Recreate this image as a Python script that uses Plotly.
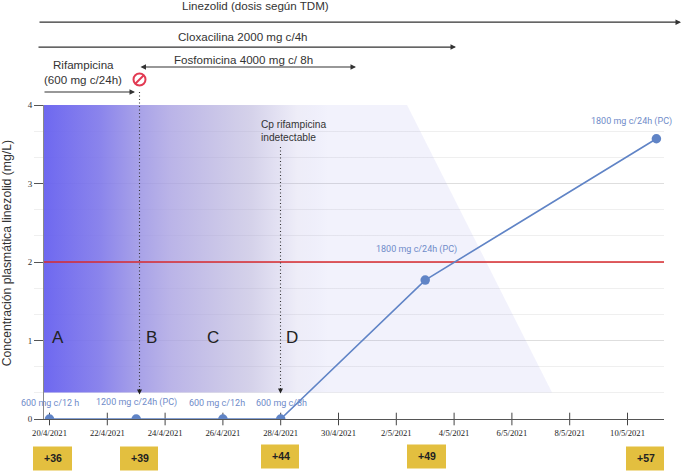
import plotly.graph_objects as go
import pandas as pd

# ---- data ----
dates = ["2021-04-20", "2021-04-23", "2021-04-26", "2021-04-28", "2021-05-03", "2021-05-11"]
conc = [0, 0, 0, 0, 1.77, 3.57]
dose_labels = ["600 mg c/12 h", "1200 mg c/24h (PC)", "600 mg c/12h", "600 mg c/8h",
               "1800 mg c/24h (PC)", "1800 mg c/24h (PC)"]
tick_dates = ["2021-04-20", "2021-04-22", "2021-04-24", "2021-04-26", "2021-04-28", "2021-04-30",
              "2021-05-02", "2021-05-04", "2021-05-06", "2021-05-08", "2021-05-10"]
tick_labels = ["20/4/2021", "22/4/2021", "24/4/2021", "26/4/2021", "28/4/2021", "30/4/2021",
               "2/5/2021", "4/5/2021", "6/5/2021", "8/5/2021", "10/5/2021"]
threshold = 2
phases = ["A", "B", "C", "D"]
day_boxes = ["+36", "+39", "+44", "+49", "+57"]

# ---- geometry helpers (page pixels of the 682x472 window) ----
W, H = 682, 472
L, R, T, B = 34, 664, 105, 419.5
PXDAY = 28.9
X0 = 49.5
x_of = lambda d: (pd.Timestamp(d) - pd.Timestamp(dates[0])).days
days = [x_of(d) for d in dates]
tick_days = [x_of(d) for d in tick_dates]
px = lambda x: (x - L) / (R - L)
py = lambda y: (B - y) / (B - T)
dx = lambda x: (x - X0) / PXDAY
dy = lambda y: (B - y) / 78.6

SANS = "Liberation Sans"
SERIF = "Liberation Serif"
ROBO = "Roboto"
BLUE = "#6f8cc9"
LINE = "#6084c6"
TXT = "#333333"

fig = go.Figure()

# shaded region with gradient
grad_stops = [
    [0.00, "rgba(102,96,239,0.95)"],
    [0.11, "rgba(125,118,234,0.90)"],
    [0.19, "rgba(153,146,228,0.85)"],
    [0.25, "rgba(169,161,226,0.80)"],
    [0.41, "rgba(171,165,213,0.50)"],
    [0.50, "rgba(170,165,220,0.20)"],
    [0.56, "rgba(125,125,225,0.10)"],
    [1.00, "rgba(125,125,225,0.10)"],
]
fig.add_trace(go.Scatter(
    x=[dx(43), dx(407), dx(552), dx(43), dx(43)],
    y=[dy(105), dy(105), dy(393), dy(393), dy(105)],
    mode="none", fill="toself", hoverinfo="skip", showlegend=False,
    fillgradient=dict(type="horizontal", colorscale=grad_stops, start=dx(43), stop=dx(552)),
))

# threshold
fig.add_trace(go.Scatter(
    x=[dx(43), dx(664)], y=[threshold, threshold], mode="lines",
    line=dict(color="#d92a2e", width=1.4), hoverinfo="skip", showlegend=False))

# x ticks crossing the axis
fig.add_trace(go.Scatter(
    x=tick_days, y=[0] * len(tick_days), mode="markers", cliponaxis=False, hoverinfo="skip", showlegend=False,
    marker=dict(symbol="line-ns", size=9, color="#444444", line=dict(color="#444444", width=1))))

# main series
fig.add_trace(go.Scatter(
    x=days, y=conc, mode="lines+markers",
    line=dict(color=LINE, width=1.6), marker=dict(color=LINE, size=9.5),
    showlegend=False))

shapes, ann = [], []

def text(x, y, s, size=11.6, color=TXT, font=SANS, anchor="center", **kw):
    ann.append(dict(x=px(x), y=py(y), xref="paper", yref="paper", text=s, showarrow=False,
                    font=dict(family=font, size=size, color=color), xanchor=anchor, yanchor="middle", **kw))

def arrow(x0, x1, y, both=False):
    ann.append(dict(x=px(x1), y=py(y), xref="paper", yref="paper", ax=x0 - x1, ay=0, text="",
                    showarrow=True, arrowhead=2, arrowsize=1.0, arrowwidth=1.1, arrowcolor="#333333",
                    startarrowhead=2, startarrowsize=1.0,
                    arrowside="end+start" if both else "end", standoff=0, startstandoff=0))

def pline(x0, y0, x1, y1, color, width=1, dash="solid"):
    shapes.append(dict(type="line", xref="paper", yref="paper", x0=px(x0), x1=px(x1), y0=py(y0), y1=py(y1),
                       line=dict(color=color, width=width, dash=dash), layer="above"))

# treatment bars
arrow(38, 682, 22)
arrow(37, 456, 47)
arrow(139, 356, 67, both=True)
arrow(43, 135, 92)
text(255.5, 5, "Linezolid (dosis según TDM)")
text(243, 36, "Cloxacilina 2000 mg c/4h")
text(243, 59, "Fosfomicina 4000 mg c/ 8h")
text(83, 64, "Rifampicina")
text(83, 79, "(600 mg c/24h)")

# stop sign
shapes.append(dict(type="circle", xref="paper", yref="paper", x0=px(133.5), x1=px(145.5), y0=py(85.5), y1=py(73.5),
                   line=dict(color="#e23a52", width=2), fillcolor="white", layer="above"))
pline(135.5, 83.5, 143.5, 75.5, "#e23a52", 2)

# dotted arrows
pline(139.5, 92, 139.5, 391, "#333333", 1.1, "1px,2.5px")
pline(280.5, 147, 280.5, 390, "#333333", 1.1, "1px,2.5px")
for xv, yv in ((139.5, 395), (280.5, 394)):
    ann.append(dict(x=px(xv), y=py(yv), xref="paper", yref="paper", ax=0, ay=-7, text="",
                    showarrow=True, arrowhead=2, arrowsize=1.0, arrowwidth=1, arrowcolor="#222222", standoff=0))
text(258.5, 125, "Cp rifampicina", size=10.2, anchor="left")
text(258.5, 137.5, "indetectable", size=10.2, anchor="left")

# phase letters
for s, xv in zip(phases, (58, 151, 213, 292)):
    text(xv, 338, s, size=17, color="#222222")

# dose labels
for s, (xv, yv) in zip(dose_labels, ((50, 403), (136.5, 403), (216.5, 403), (281, 403), (416, 250), (631, 122))):
    text(xv, yv, s, size=9, color=BLUE, font=ROBO)

# day boxes
for s, (x0, x1, y0, y1) in zip(day_boxes, ((33, 72, 447, 471), (120, 158, 447, 471), (261, 299, 445, 469),
                                           (407, 446, 445, 469), (626, 664, 447, 471))):
    shapes.append(dict(type="rect", xref="paper", yref="paper", x0=px(x0), x1=px(x1), y0=py(y1), y1=py(y0),
                       line=dict(width=0), fillcolor="#e3bf3f", layer="above"))
    text((x0 + x1) / 2 + 0.5, (y0 + y1) / 2, f"<b>{s}</b>", size=10.5, color="#222222")

# y axis title
ann.append(dict(x=px(6.5), y=py(254), xref="paper", yref="paper", text="Concentración plasmática linezolid (mg/L)",
                showarrow=False, textangle=-90, font=dict(family=SANS, size=12.2, color=TXT),
                xanchor="center", yanchor="middle"))

fig.update_layout(
    width=W, height=H, autosize=False, showlegend=False,
    margin=dict(l=L, r=W - R, t=T, b=H - B, pad=0),
    paper_bgcolor="white", plot_bgcolor="white",
    xaxis=dict(range=[dx(L), dx(R)], tickvals=tick_days, ticktext=tick_labels,
               ticks="", ticklabelstandoff=6, showgrid=False, zeroline=False,
               showline=True, linecolor="#555555", linewidth=1,
               tickfont=dict(family=SERIF, size=8.6, color="#222222")),
    yaxis=dict(range=[0, 4], tickvals=[0, 1, 2, 3, 4], ticks="outside", ticklen=9, tickcolor="#555555",
               showgrid=True, gridcolor="#dedede", gridwidth=1,
               zeroline=False, anchor="free", position=px(43), side="left", layer="above traces",
               showline=True, linecolor="#888888", linewidth=1,
               tickfont=dict(family=SERIF, size=9, color="#333333"),
               minor=dict(tickvals=[v / 3 for v in range(1, 12) if v % 3], showgrid=True,
                          gridcolor="#efefef", gridwidth=1, ticks="")),
    shapes=shapes, annotations=ann,
)

fig.write_html("out.html", config=dict(displayModeBar=False),
               post_script="document.body.style.margin='0';document.documentElement.style.overflow='hidden';")
